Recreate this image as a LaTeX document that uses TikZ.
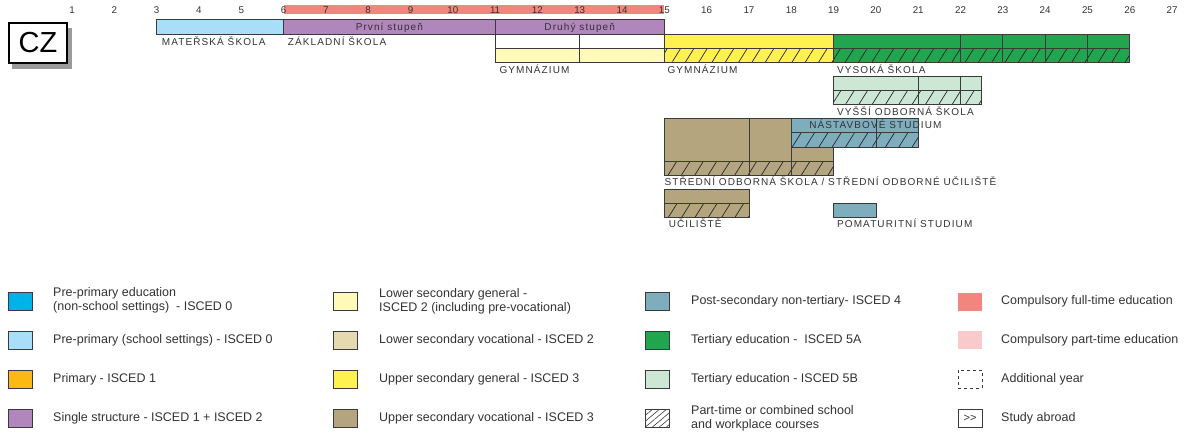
\documentclass[tikz,border=0pt]{standalone}
\usepackage{fontspec}
\setmainfont{Liberation Sans}
\newfontfamily\spacedfont[LetterSpace=11]{Liberation Sans}
\usetikzlibrary{patterns.meta}
\definecolor{preprimns}{HTML}{00B2EA}
\definecolor{preprim}{HTML}{A8DEF7}
\definecolor{primary}{HTML}{FDB913}
\definecolor{single}{HTML}{B086BC}
\definecolor{lowgen}{HTML}{FFF9BA}
\definecolor{lowvoc}{HTML}{E4D9AF}
\definecolor{upgen}{HTML}{FFF250}
\definecolor{upvoc}{HTML}{B5A57F}
\definecolor{postsec}{HTML}{7EADBE}
\definecolor{tertA}{HTML}{21A64F}
\definecolor{tertB}{HTML}{CDE7D5}
\definecolor{compfull}{HTML}{F3857F}
\definecolor{comppart}{HTML}{F9C9CC}
\definecolor{ink}{HTML}{333333}
\definecolor{edge}{HTML}{3A3A3A}
\definecolor{shadowgray}{HTML}{9A9A9A}
\tikzset{
  cell/.style={draw=edge, line width=0.8pt, fill=#1},
  hcell/.style={preaction={fill=#1},
    preaction={pattern={Lines[angle=58,distance=11.3pt,line width=0.7pt]}, pattern color=black!85},
    draw=edge, line width=0.8pt},
  num/.style={font=\fontsize{9.8}{11}\selectfont, text=ink, inner sep=0},
  barlab/.style={font=\spacedfont\fontsize{10}{12}\selectfont, text=ink, inner sep=0, text height=7.2pt, text depth=0pt},
  lab/.style={barlab, anchor=west},
  swatch/.style={draw=edge, line width=0.8pt, minimum width=24pt, minimum height=18pt, inner sep=0},
  leg/.style={anchor=west, font=\fontsize{12.5}{14}\selectfont, text=ink, align=left, inner sep=0},
}
\begin{document}
\begin{tikzpicture}[x=1pt,y=-1pt]
\useasboundingbox (0,0) rectangle (1193,434);

% country box
\fill[shadowgray] (12,28) rectangle (72,69);
\node[draw=black, fill=white, line width=1.4pt, minimum width=58pt, minimum height=40pt, inner sep=0,
  font=\fontsize{29}{30}\selectfont] (cz) at (38,43) {CZ};

\begin{scope}[x=42.31pt, xshift=29.69pt]
  % compulsory education band
  \fill[compfull] (6,4.5) rectangle (15,13.5);
  \foreach \a in {1,...,27} \node[num] (n\a) at (\a,10) {\a};

  % pre-primary and single structure
  \draw[cell=preprim] (3,19) rectangle (6,34);
  \draw[cell=single] (6,19) rectangle (11,34);
  \draw[cell=single] (11,19) rectangle (15,34);
  \node[barlab] (prvni) at (8.5,26.5) {První stupeň};
  \node[barlab] (druhy) at (13,26.5) {Druhý stupeň};

  % lower secondary gymnazium
  \draw[cell=white] (11,34) rectangle (13,48);
  \draw[cell=white] (13,34) rectangle (15,48);
  \draw[cell=lowgen] (11,48) rectangle (13,62);
  \draw[cell=lowgen] (13,48) rectangle (15,62);

  % upper secondary gymnazium
  \draw[cell=upgen] (15,34) rectangle (19,48);
  \draw[hcell=upgen] (15,48) rectangle (19,62);

  % vysoka skola
  \foreach \l/\r in {19/22,22/23,23/24,24/25,25/26}{
    \draw[cell=tertA] (\l,34) rectangle (\r,48);
    \draw[hcell=tertA] (\l,48) rectangle (\r,62);
  }

  % vyssi odborna skola
  \foreach \l/\r in {19/21,21/22,22/22.5}{
    \draw[cell=tertB] (\l,76) rectangle (\r,90);
    \draw[hcell=tertB] (\l,90) rectangle (\r,104);
  }

  % stredni odborna skola
  \draw[cell=upvoc] (15,118) rectangle (17,161);
  \draw[cell=upvoc] (17,118) rectangle (18,161);
  \draw[cell=upvoc] (18,147) rectangle (19,161);
  \draw[hcell=upvoc] (15,161) rectangle (17,175);
  \draw[hcell=upvoc] (17,161) rectangle (18,175);
  \draw[hcell=upvoc] (18,161) rectangle (19,175);

  % nastavbove studium
  \draw[cell=postsec] (18,118) rectangle (20,132);
  \draw[cell=postsec] (20,118) rectangle (21,132);
  \draw[hcell=postsec] (18,132) rectangle (20,147);
  \draw[hcell=postsec] (20,132) rectangle (21,147);

  % uciliste
  \draw[cell=upvoc] (15,189) rectangle (17,203);
  \draw[hcell=upvoc] (15,203) rectangle (17,217);

  % pomaturitni studium
  \draw[cell=postsec] (19,203) rectangle (20,217);

  % labels
  \node[lab] (ms)  at (3.12,42) {MATEŘSKÁ ŠKOLA};
  \node[lab] (zs)  at (6.1,42) {ZÁKLADNÍ ŠKOLA};
  \node[lab] (g1)  at (11.1,70) {GYMNÁZIUM};
  \node[lab] (g2)  at (15.07,70) {GYMNÁZIUM};
  \node[lab] (vs)  at (19.08,70) {VYSOKÁ ŠKOLA};
  \node[lab] (vos) at (19.08,112) {VYŠŠÍ ODBORNÁ ŠKOLA};
  \node[lab] (nst) at (18.42,125) {NÁSTAVBOVÉ STUDIUM};
  \node[lab] (sos) at (15.0,182) {STŘEDNÍ ODBORNÁ ŠKOLA / STŘEDNÍ ODBORNÉ UČILIŠTĚ};
  \node[lab] (uc)  at (15.1,224) {UČILIŠTĚ};
  \node[lab] (pom) at (19.08,224) {POMATURITNÍ STUDIUM};
\end{scope}

% legend column 1
\node[swatch, fill=preprimns] (s11) at (20,301.5) {};
\node[leg] (t11) at (53,300.5) {Pre-primary education\\(non-school settings)\ \ - ISCED 0};
\node[swatch, fill=preprim] (s12) at (20,340) {};
\node[leg] (t12) at (53,340) {Pre-primary (school settings) - ISCED 0};
\node[swatch, fill=primary] (s13) at (20,379) {};
\node[leg] (t13) at (53,379) {Primary - ISCED 1};
\node[swatch, fill=single] (s14) at (20,418.5) {};
\node[leg] (t14) at (53,418.5) {Single structure - ISCED 1 + ISCED 2};

% legend column 2
\node[swatch, fill=lowgen] (s21) at (345.5,301.5) {};
\node[leg] (t21) at (379,301) {Lower secondary general -\\ISCED 2 (including pre-vocational)};
\node[swatch, fill=lowvoc] (s22) at (345.5,340) {};
\node[leg] (t22) at (379,340) {Lower secondary vocational - ISCED 2};
\node[swatch, fill=upgen] (s23) at (345.5,379) {};
\node[leg] (t23) at (379,379) {Upper secondary general - ISCED 3};
\node[swatch, fill=upvoc] (s24) at (345.5,418.5) {};
\node[leg] (t24) at (379,418.5) {Upper secondary vocational - ISCED 3};

% legend column 3
\node[swatch, fill=postsec] (s31) at (657.5,301.5) {};
\node[leg] (t31) at (691,301) {Post-secondary non-tertiary- ISCED 4};
\node[swatch, fill=tertA] (s32) at (657.5,340) {};
\node[leg] (t32) at (691,340) {Tertiary education -\ \ ISCED 5A};
\node[swatch, fill=tertB] (s33) at (657.5,379) {};
\node[leg] (t33) at (691,379) {Tertiary education - ISCED 5B};
\node[swatch, fill=white, postaction={pattern={Lines[angle=40,distance=4.5pt,line width=0.6pt]}, pattern color=edge}] (s34) at (657.5,418.5) {};
\node[leg] (t34) at (691,418.5) {Part-time or combined school\\and workplace courses};

% legend column 4
\node[swatch, draw=none, fill=compfull] (s41) at (970,301.5) {};
\node[leg] (t41) at (1001,301) {Compulsory full-time education};
\node[swatch, draw=none, fill=comppart] (s42) at (970,340) {};
\node[leg] (t42) at (1001,340) {Compulsory part-time education};
\node[swatch, dash pattern=on 3pt off 3pt] (s43) at (970,379) {};
\node[leg] (t43) at (1001,379) {Additional year};
\node[swatch, font=\fontsize{11}{12}\selectfont, text=ink] (s44) at (970,418.5) {>{}>};
\node[leg] (t44) at (1001,418.5) {Study abroad};
\end{tikzpicture}
\end{document}
